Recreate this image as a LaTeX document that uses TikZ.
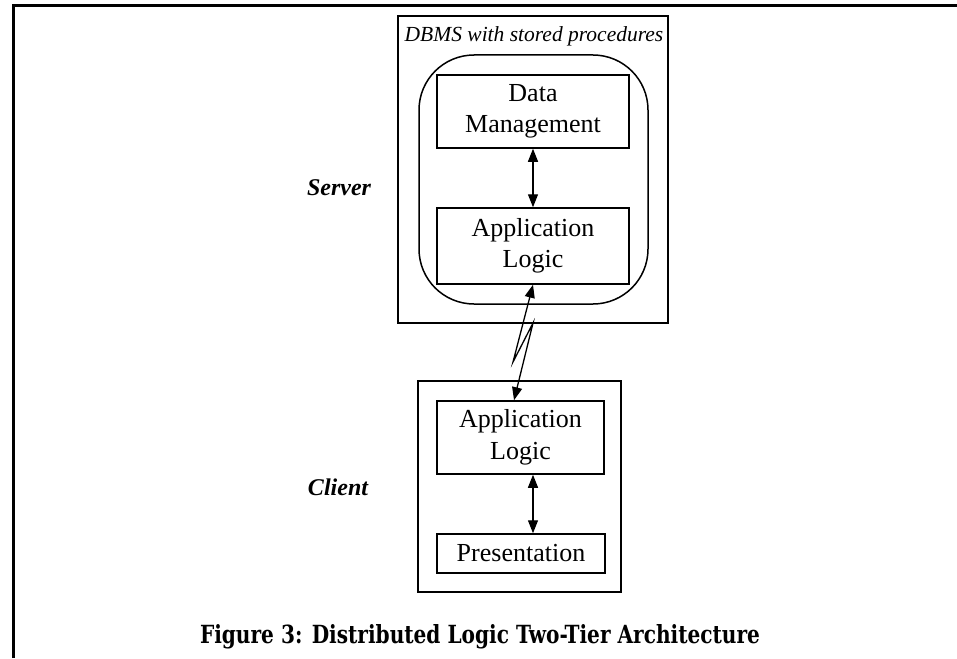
\documentclass[tikz,border=0pt]{standalone}
\usepackage{fontspec}
\setmainfont{Liberation Serif}
\newfontfamily\capfont{DejaVu Serif}
\usetikzlibrary{arrows.meta,calc}
\begin{document}
\begin{tikzpicture}[x=1pt,y=-1pt,
  box/.style={draw,line width=1.5pt,inner sep=0pt,align=center,font=\fontsize{26}{31.5}\selectfont},
  lbl/.style={font=\fontsize{24}{28}\selectfont\bfseries\itshape},
  dtip/.style={{Triangle[length=13pt,width=10pt]}-{Triangle[length=13pt,width=10pt]}},
  conn/.style={line width=1.3pt}]
\useasboundingbox (0,0) rectangle (957,658);
\draw[line width=3pt] (13,658) -- (13,6) -- (957,6);
% server
\node[box,minimum width=270pt,minimum height=307pt] (srv) at (533,169.5) {};
\node[font=\fontsize{21.5}{26}\selectfont\itshape,inner sep=0pt] (dbms) at (534,36) {DBMS with stored procedures};
\node[box,rounded corners=55pt,minimum width=229pt,minimum height=249pt] (dbr) at (533.5,179.5) {};
\node[box,minimum width=192pt,minimum height=73pt] (dm) at (533,111.5) {Data\\Management};
\node[box,minimum width=192pt,minimum height=76pt] (sal) at (533,246) {Application\\Logic};
\draw[conn,dtip] (dm.south) -- (sal.north);
\node[lbl] (slab) at (339,188) {Server};
% client
\node[box,minimum width=203pt,minimum height=211pt] (cli) at (519.5,486.5) {};
\node[box,minimum width=167pt,minimum height=73pt] (cal) at (520.5,437.5) {Application\\Logic};
\node[box,minimum width=168pt,minimum height=39pt] (pr) at (521,553.5) {Presentation};
\draw[conn,dtip] (cal.south -| dm.south) -- (pr.north -| dm.south);
\node[lbl] (clab) at (338,487) {Client};
% lightning link
\coordinate (z1) at (513,362);
\coordinate (z2) at (533,323);
\coordinate (ctop) at ($(cal.north)+(-6.5,0)$);
\draw[conn,dtip] (sal.south) -- (z1) -- (z2) -- (ctop);
% caption
\node[inner sep=0pt,anchor=base] (cap) at (480,643) {\resizebox{560pt}{19pt}{\capfont\bfseries Figure 3: Distributed Logic Two-Tier Architecture}};
\end{tikzpicture}
\end{document}
